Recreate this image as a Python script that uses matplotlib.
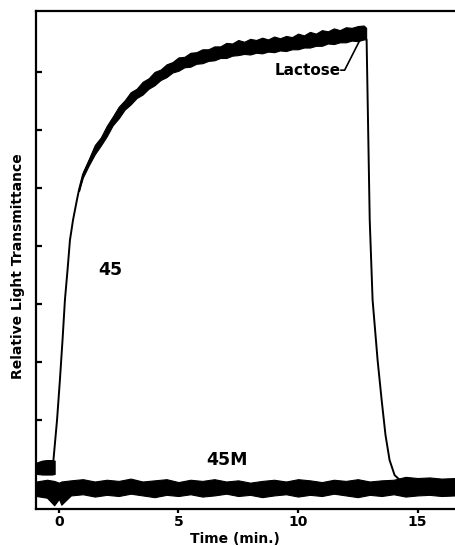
import matplotlib
matplotlib.use("Agg")
import matplotlib.pyplot as plt

# ---- data (time in min, relative transmittance in tick units) ----
# Strain 45: centre line of trace
t45 = [-0.96, -0.25, -0.08, 0.04, 0.15, 0.25, 0.36, 0.46, 0.59, 0.75, 0.84, 1.0,
       1.3, 1.5, 1.84, 2.2, 2.84, 3.8, 4.64, 5.47, 6.44, 7.15, 8.4, 9.65, 11.3,
       12.75, 12.87, 13.0, 13.12, 13.33, 13.5, 13.66, 13.83, 14.04, 14.25, 16.6]
v45 = [0.18, 0.22, 1.0, 1.69, 2.38, 3.07, 3.59, 4.10, 4.45, 4.79, 4.97, 5.22,
       5.48, 5.66, 5.83, 6.14, 6.47, 6.81, 7.07, 7.21, 7.31, 7.38, 7.45, 7.50, 7.60,
       7.67, 7.55, 4.45, 3.07, 2.03, 1.34, 0.74, 0.31, 0.05, -0.03, -0.05]

# Strain 45: noisy band envelope
t45_band = [0.84, 1.0, 1.25, 1.5, 1.75, 2.0, 2.25, 2.5, 2.75, 3.0, 3.25, 3.5, 3.75,
            4.0, 4.25, 4.5, 4.75, 5.0, 5.25, 5.5, 5.75, 6.0, 6.25, 6.5, 6.75,
            7.0, 7.25, 7.5, 7.75, 8.0, 8.25, 8.5, 8.75, 9.0, 9.25, 9.5, 9.75,
            10.0, 10.25, 10.5, 10.75, 11.0, 11.25, 11.5, 11.75, 12.0, 12.25,
            12.5, 12.75, 12.85]
v45_top = [4.99, 5.27, 5.50, 5.74, 5.87, 6.07, 6.23, 6.40, 6.51, 6.65, 6.71, 6.83,
           6.89, 7.00, 7.04, 7.13, 7.17, 7.25, 7.26, 7.33, 7.34, 7.39, 7.39, 7.44,
           7.44, 7.50, 7.49, 7.55, 7.52, 7.57, 7.55, 7.59, 7.56, 7.61, 7.58, 7.62,
           7.60, 7.66, 7.63, 7.69, 7.66, 7.72, 7.70, 7.75, 7.72, 7.77, 7.76, 7.79,
           7.80, 7.76]
v45_bot = [4.95, 5.18, 5.39, 5.58, 5.73, 5.89, 6.08, 6.20, 6.35, 6.44, 6.55, 6.61,
           6.71, 6.77, 6.86, 6.91, 6.99, 7.02, 7.08, 7.09, 7.14, 7.15, 7.19, 7.20,
           7.24, 7.24, 7.28, 7.29, 7.31, 7.30, 7.33, 7.32, 7.35, 7.34, 7.37, 7.36,
           7.39, 7.39, 7.42, 7.42, 7.45, 7.45, 7.49, 7.48, 7.51, 7.51, 7.54, 7.53,
           7.56, 7.56]

# Strain 45: pre-lactose baseline blob
t45_pre = [-0.92, -0.7, -0.5, -0.3, -0.18]
v45_pre_top = [0.27, 0.30, 0.31, 0.31, 0.30]
v45_pre_bot = [0.07, 0.06, 0.06, 0.06, 0.07]

# Strain 45M: noisy baseline band
t45M = [-0.95, -0.5, -0.2, 0.0, 0.1, 0.5, 1.0, 1.5, 2.0, 2.5, 3.0, 3.5, 4.0, 4.5,
        5.0, 5.5, 6.0, 6.5, 7.0, 7.5, 8.0, 8.5, 9.0, 9.5, 10.0, 10.5, 11.0,
        11.5, 12.0, 12.5, 13.0, 13.5, 14.0, 14.5, 15.0, 15.5, 16.0, 16.6]
v45M_top = [-0.06, -0.03, -0.05, -0.08, -0.06, -0.04, -0.02, -0.06, -0.03, -0.05,
            -0.01, -0.06, -0.04, -0.02, -0.07, -0.03, -0.05, -0.02, -0.06, -0.04,
            -0.08, -0.05, -0.03, -0.06, -0.02, -0.04, -0.07, -0.03, -0.05, -0.02,
            -0.06, -0.04, -0.03, 0.02, 0.00, 0.01, -0.01, 0.00]
v45M_bot = [-0.31, -0.34, -0.47, -0.36, -0.46, -0.30, -0.28, -0.32, -0.29, -0.31,
            -0.27, -0.30, -0.33, -0.29, -0.31, -0.28, -0.32, -0.30, -0.27, -0.31,
            -0.29, -0.33, -0.30, -0.28, -0.32, -0.29, -0.31, -0.27, -0.30, -0.33,
            -0.29, -0.31, -0.28, -0.32, -0.30, -0.29, -0.31, -0.30]

xticks = [0, 5, 10, 15]
xtick_labels = ["0", "5", "10", "15"]
yticks = [1, 2, 3, 4, 5, 6, 7]

# ---- figure ----
fig = plt.figure(figsize=(4.56, 5.46), dpi=100)
ax = fig.add_axes([36 / 456, 1 - 509 / 546, 1 - 36 / 456 + 0.01, (509 - 11) / 546])
ax.set_xlim(-0.96, 16.8)
ax.set_ylim(-0.534, 8.05)

ax.plot(t45, v45, color="black", lw=1.4, solid_joinstyle="round")
ax.fill_between(t45_band, v45_bot, v45_top, color="black", lw=0.8, edgecolor="black")
ax.fill_between(t45_pre, v45_pre_bot, v45_pre_top, color="black", lw=0.8, edgecolor="black")
ax.fill_between(t45M, v45M_bot, v45M_top, color="black", lw=0.8, edgecolor="black")

# annotation line for Lactose
ax.plot([11.8, 11.95, 12.8], [7.03, 7.03, 7.72], color="black", lw=1.2)
ax.text(11.8, 7.03, "Lactose", ha="right", va="center", fontsize=11,
        fontweight="bold")
ax.text(2.13, 3.59, "45", ha="center", va="center", fontsize=12.5, fontweight="bold")
ax.text(7.02, 0.31, "45M", ha="center", va="center", fontsize=12.5, fontweight="bold")

ax.spines["right"].set_visible(False)
for s in ["left", "top", "bottom"]:
    ax.spines[s].set_linewidth(1.6)

ax.set_xticks(xticks)
ax.set_xticklabels(xtick_labels, fontsize=10, fontweight="bold")
ax.tick_params(axis="x", direction="out", length=3, width=1.6, pad=1)
ax.set_yticks(yticks)
ax.set_yticklabels([])
ax.tick_params(axis="y", direction="in", length=4, width=1.6)

fig.text(235 / 456, 1 - 539 / 546, "Time (min.)", ha="center", va="center",
         fontsize=10, fontweight="bold")
fig.text(18 / 456, 1 - 266 / 546, "Relative Light Transmittance", ha="center",
         va="center", rotation=90, fontsize=10, fontweight="bold")

fig.savefig("out.png", dpi=100)
